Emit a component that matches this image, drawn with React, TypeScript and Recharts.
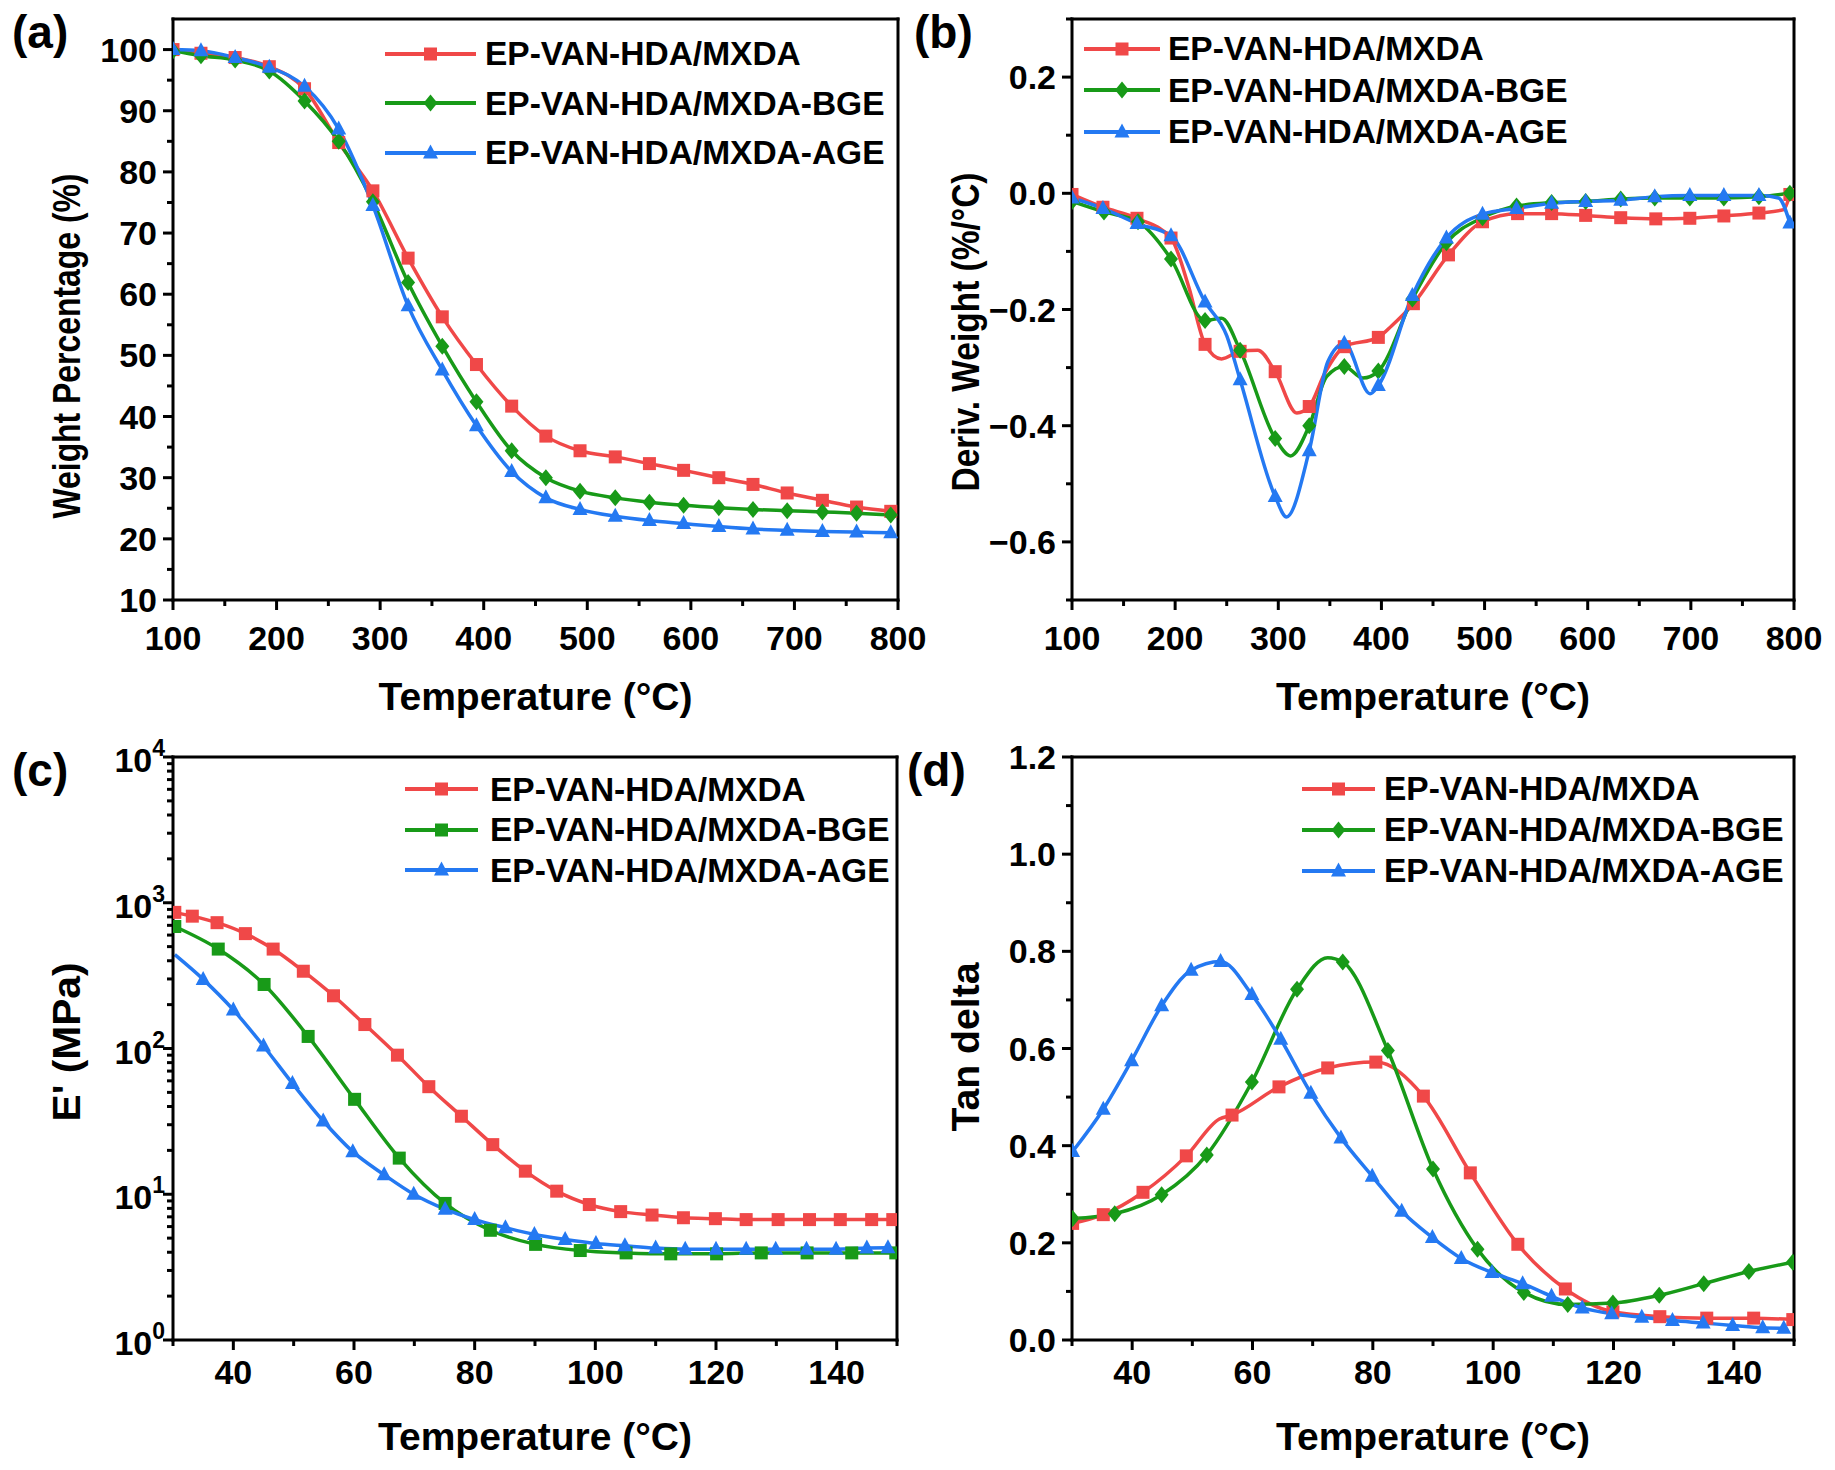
import React from 'react';
import { LineChart, Line, XAxis, YAxis, Legend, Label } from 'recharts';

const RED = '#f04848';
const GREEN = '#189a18';
const BLUE = '#2479f2';
const COLORS = [RED, GREEN, BLUE];
const FONT = '"Liberation Sans", Arial, Helvetica, sans-serif';

const names = ['EP-VAN-HDA/MXDA', 'EP-VAN-HDA/MXDA-BGE', 'EP-VAN-HDA/MXDA-AGE'];

// (a) TGA weight percentage
const aTemp = [100, 127, 160, 193, 227, 260, 293, 327, 360, 393, 427, 460, 493, 527, 560, 593, 627, 660, 693, 727, 760, 793];
const aRed = [100, 99.4, 98.7, 97.2, 93.6, 84.8, 76.9, 65.9, 56.3, 48.5, 41.7, 36.8, 34.4, 33.4, 32.3, 31.2, 30.0, 28.9, 27.5, 26.3, 25.2, 24.5];
const aGreen = [99.8, 99.0, 98.3, 96.5, 91.6, 85.0, 75.1, 61.9, 51.5, 42.4, 34.4, 30.0, 27.8, 26.7, 26.0, 25.5, 25.1, 24.8, 24.6, 24.4, 24.2, 23.9];
const aBlue = [100, 99.8, 98.7, 97.1, 94.0, 87.0, 74.5, 58.1, 47.6, 38.5, 31.0, 26.7, 24.8, 23.7, 23.0, 22.5, 22.0, 21.6, 21.4, 21.2, 21.1, 21.0];

// (b) DTG, marker points plus extra points
const bRedT = [100, 130, 163, 196, 229, 263, 297, 330, 364, 397, 431, 465, 498, 532, 565, 598, 632, 666, 699, 732, 766, 796];
const bRedV = [-0.002, -0.024, -0.043, -0.077, -0.26, -0.272, -0.307, -0.367, -0.264, -0.248, -0.19, -0.106, -0.049, -0.035, -0.035, -0.038, -0.042, -0.044, -0.043, -0.039, -0.034, -0.002];
const bRedExT = [213, 245, 280, 318, 345, 410, 790];
const bRedExV = [-0.16, -0.285, -0.27, -0.378, -0.31, -0.228, -0.028];
const bGreenT = [100, 131, 164, 196, 229, 263, 297, 330, 364, 397, 430, 463, 498, 531, 565, 598, 632, 665, 699, 732, 766, 796];
const bGreenV = [-0.014, -0.032, -0.049, -0.113, -0.219, -0.27, -0.422, -0.4, -0.298, -0.306, -0.182, -0.085, -0.042, -0.022, -0.016, -0.014, -0.01, -0.008, -0.008, -0.008, -0.006, 0.0];
const bGreenExT = [245, 312, 347, 382];
const bGreenExV = [-0.215, -0.452, -0.315, -0.318];
const bBlueT = [100, 130, 163, 196, 229, 263, 297, 330, 364, 397, 430, 463, 498, 531, 565, 598, 632, 665, 699, 732, 766, 796];
const bBlueV = [-0.008, -0.026, -0.052, -0.073, -0.187, -0.321, -0.522, -0.443, -0.258, -0.331, -0.176, -0.077, -0.036, -0.026, -0.017, -0.014, -0.012, -0.006, -0.004, -0.004, -0.004, -0.051];
const bBlueExT = [250, 308, 348, 389, 785];
const bBlueExV = [-0.245, -0.557, -0.29, -0.345, -0.008];

// (c) storage modulus E' (MPa)
const cRedT = [30.3, 33.2, 37.3, 42, 46.6, 51.6, 56.6, 61.8, 67.2, 72.4, 77.8, 83, 88.4, 93.6, 99, 104.2, 109.4, 114.6, 119.9, 125, 130.3, 135.5, 140.6, 145.8, 149.3];
const cRedV = [859, 809, 730, 614, 481, 339, 230, 146, 90, 54.7, 34.3, 21.9, 14.4, 10.5, 8.5, 7.6, 7.2, 6.9, 6.8, 6.7, 6.7, 6.7, 6.7, 6.7, 6.7];
const cGreenT = [30.3, 37.5, 45.1, 52.4, 60.1, 67.5, 75.1, 82.6, 90.1, 97.5, 105.1, 112.5, 120.1, 127.5, 135.1, 142.5, 149.8];
const cGreenV = [687, 481, 275, 121, 44.8, 17.7, 8.65, 5.66, 4.53, 4.11, 3.96, 3.9, 3.9, 3.96, 3.96, 3.96, 3.96];
const cBlueT = [35, 40, 45, 49.8, 54.9, 59.8, 65, 69.9, 75.1, 80, 85.1, 89.9, 95, 100.1, 104.9, 110, 114.9, 120, 125, 129.9, 135, 139.9, 145, 148.5];
const cBlueV = [298, 184, 104, 57.6, 31.8, 19.6, 13.6, 10, 7.9, 6.7, 5.9, 5.3, 4.9, 4.6, 4.43, 4.27, 4.2, 4.2, 4.2, 4.2, 4.2, 4.2, 4.27, 4.3];
const cBlueExT = [30.3];
const cBlueExV = [440];

// (d) tan delta
const dRedT = [30.1, 35.2, 41.8, 49, 56.6, 64.4, 72.5, 80.5, 88.4, 96.2, 104.1, 112, 119.9, 127.7, 135.5, 143.3, 149.8];
const dRedV = [0.24, 0.258, 0.304, 0.379, 0.463, 0.521, 0.56, 0.572, 0.502, 0.344, 0.197, 0.105, 0.058, 0.048, 0.045, 0.045, 0.042];
const dRedExT = [54.5];
const dRedExV = [0.455];
const dGreenT = [30.1, 37.1, 44.9, 52.4, 59.9, 67.4, 75, 82.5, 90, 97.4, 105.1, 112.4, 119.9, 127.6, 135, 142.5, 149.8];
const dGreenV = [0.25, 0.26, 0.299, 0.381, 0.531, 0.722, 0.778, 0.596, 0.352, 0.187, 0.098, 0.073, 0.076, 0.092, 0.116, 0.141, 0.16];
const dGreenExT = [72.5];
const dGreenExV = [0.787];
const dBlueT = [30.1, 35.2, 39.9, 44.9, 49.8, 54.7, 59.9, 64.7, 69.7, 74.7, 79.9, 84.8, 89.9, 94.7, 99.8, 104.9, 109.7, 114.8, 119.7, 124.7, 129.8, 134.9, 139.8, 144.8, 148.3];
const dBlueV = [0.388, 0.475, 0.575, 0.688, 0.761, 0.779, 0.711, 0.619, 0.508, 0.416, 0.337, 0.265, 0.211, 0.168, 0.139, 0.116, 0.09, 0.066, 0.054, 0.047, 0.04, 0.035, 0.03, 0.025, 0.024];

// ticks
const tgaXTicks = [100, 150, 200, 250, 300, 350, 400, 450, 500, 550, 600, 650, 700, 750, 800];
const tgaXMajor = [100, 200, 300, 400, 500, 600, 700, 800];
const aYTicks = [10, 15, 20, 25, 30, 35, 40, 45, 50, 55, 60, 65, 70, 75, 80, 85, 90, 95, 100];
const aYMajor = [10, 20, 30, 40, 50, 60, 70, 80, 90, 100];
const bYTicks = [-0.7, -0.6, -0.5, -0.4, -0.3, -0.2, -0.1, 0, 0.1, 0.2, 0.3];
const bYMajor = [-0.6, -0.4, -0.2, 0, 0.2];
const dmaXTicks = [30, 40, 50, 60, 70, 80, 90, 100, 110, 120, 130, 140, 150];
const dmaXMajor = [40, 60, 80, 100, 120, 140];
const cYTicks = [1, 2, 3, 4, 5, 6, 7, 8, 9, 10, 20, 30, 40, 50, 60, 70, 80, 90, 100, 200, 300, 400, 500, 600, 700, 800, 900, 1000, 2000, 3000, 4000, 5000, 6000, 7000, 8000, 9000, 10000];
const cYMajor = [1, 10, 100, 1000, 10000];
const dYTicks = [0, 0.1, 0.2, 0.3, 0.4, 0.5, 0.6, 0.7, 0.8, 0.9, 1.0, 1.1, 1.2];
const dYMajor = [0, 0.2, 0.4, 0.6, 0.8, 1.0, 1.2];

type Pt = { t: number; v: number; m: boolean };
type Shape = 'square' | 'diamond' | 'triangle';

// axis boxes: bottom/left axes get real size, frame axes a small one
const X_AXIS_H = 60;
const Y_AXIS_W = 60;
const FRAME_AXIS = 10;

function build(mt: number[], mv: number[], et: number[] = [], ev: number[] = []): Pt[] {
  const pts = [
    ...mt.map((t, i) => ({ t, v: mv[i], m: true })),
    ...et.map((t, i) => ({ t, v: ev[i], m: false })),
  ];
  return pts.sort((p, q) => p.t - q.t);
}

function marker(shape: Shape, color: string, cx: number, cy: number) {
  if (shape === 'square') {
    return <rect x={cx - 6.5} y={cy - 6.5} width={13} height={13} fill={color} />;
  }
  if (shape === 'diamond') {
    return <polygon points={`${cx},${cy - 8.5} ${cx + 7},${cy} ${cx},${cy + 8.5} ${cx - 7},${cy}`} fill={color} />;
  }
  return <polygon points={`${cx},${cy - 8.5} ${cx + 7.5},${cy + 5.5} ${cx - 7.5},${cy + 5.5}`} fill={color} />;
}

function makeDot(shape: Shape, color: string) {
  return (p: any) => {
    const { cx, cy, payload, index } = p;
    if (!payload || !payload.m || cx == null || cy == null) return <g key={`e${index}`} />;
    return <g key={`d${index}`}>{marker(shape, color, cx, cy)}</g>;
  };
}

const txt = { fontFamily: FONT, fontWeight: 700, fill: '#000' } as const;

function bottomTick(majors: number[], fmt: (v: number) => string, labelDy: number) {
  return (p: any) => {
    const { x, y, payload } = p;
    const major = majors.includes(payload.value);
    return (
      <g>
        <line x1={x} x2={x} y1={y} y2={y + (major ? 10 : 6)} stroke="#000" strokeWidth={3} />
        {major && (
          <text x={x} y={y + labelDy} textAnchor="middle" fontSize={34} {...txt}>
            {fmt(payload.value)}
          </text>
        )}
      </g>
    );
  };
}

function leftTick(majors: number[], fmt: (v: number) => string) {
  return (p: any) => {
    const { x, y, payload } = p;
    const major = majors.includes(payload.value);
    return (
      <g>
        <line x1={x - (major ? 10 : 6)} x2={x} y1={y} y2={y} stroke="#000" strokeWidth={3} />
        {major && (
          <text x={x - 16} y={y + 12} textAnchor="end" fontSize={34} {...txt}>
            {fmt(payload.value)}
          </text>
        )}
      </g>
    );
  };
}

function logTick(majors: number[]) {
  return (p: any) => {
    const { x, y, payload } = p;
    const major = majors.includes(payload.value);
    return (
      <g>
        <line x1={x - (major ? 10 : 6)} x2={x} y1={y} y2={y} stroke="#000" strokeWidth={3} />
        {major && (
          <text x={x - 8} y={y + 15} textAnchor="end" fontSize={34} {...txt}>
            10
            <tspan fontSize={23} dy={-16}>
              {Math.round(Math.log10(payload.value))}
            </tspan>
          </text>
        )}
      </g>
    );
  };
}

const intFmt = (v: number) => String(v);
const signedFmt = (v: number) => (v < 0 ? '\u2212' : '') + Math.abs(v).toFixed(1);
const oneFmt = (v: number) => v.toFixed(1);

function xTitle(props: any) {
  const { x, y, width } = props.viewBox;
  return (
    <text x={x + width / 2} y={y + 110} textAnchor="middle" fontSize={39} {...txt}>
      Temperature (°C)
    </text>
  );
}

function yTitle(title: string, centerY: number, length: number) {
  return (props: any) => {
    const { x, width } = props.viewBox;
    const cx = x + width - 93;
    const cy = centerY;
    return (
      <text
        x={cx}
        y={cy}
        transform={`rotate(-90 ${cx} ${cy})`}
        textAnchor="middle"
        fontSize={38}
        textLength={length}
        lengthAdjust="spacingAndGlyphs"
        {...txt}
      >
        {title}
      </text>
    );
  };
}

function legendContent(shapes: Shape[], lineW: number, rowH: number, gap: number) {
  return () => (
    <div style={{ display: 'flex', flexDirection: 'column' }}>
      {names.map((n, i) => (
        <div key={n} style={{ display: 'flex', alignItems: 'center', height: rowH }}>
          <svg width={lineW} height={22} style={{ overflow: 'visible' }}>
            <line x1={0} x2={lineW} y1={11} y2={11} stroke={COLORS[i]} strokeWidth={4} />
            {marker(shapes[i], COLORS[i], lineW / 2, 11)}
          </svg>
          <span style={{ marginLeft: gap, fontFamily: FONT, fontWeight: 700, fontSize: 33.5, lineHeight: 1, color: '#000', whiteSpace: 'nowrap' }}>
            {n}
          </span>
        </div>
      ))}
    </div>
  );
}

type PanelProps = {
  left: number;
  top: number;
  width: number;
  height: number;
  // plot frame edges measured from the panel box
  frame: { top: number; right: number; bottom: number; left: number };
  xDomain: [number, number];
  xTicks: number[];
  xMajor: number[];
  xLabelDy: number;
  yDomain: [number, number];
  yTicks: number[];
  yTick: (p: any) => React.ReactElement;
  logY?: boolean;
  yLabel: string;
  yLabelCenter: number;
  yLabelLength: number;
  series: Pt[][];
  shapes: Shape[];
  legend: { left: number; top: number; lineW: number; rowH: number; gap: number };
};

const axisLine = { stroke: '#000', strokeWidth: 3, strokeLinecap: 'square' as const };

function Panel(p: PanelProps) {
  const margin = {
    top: p.frame.top - FRAME_AXIS,
    right: p.frame.right - FRAME_AXIS,
    bottom: p.frame.bottom - X_AXIS_H,
    left: p.frame.left - Y_AXIS_W,
  };
  return (
    <div style={{ position: 'absolute', left: p.left, top: p.top }}>
      <LineChart width={p.width} height={p.height} margin={margin}>
        <XAxis
          type="number"
          dataKey="t"
          domain={p.xDomain}
          ticks={p.xTicks}
          interval={0}
          height={X_AXIS_H}
          tickSize={0}
          tickMargin={0}
          tickLine={false}
          axisLine={axisLine}
          tick={bottomTick(p.xMajor, intFmt, p.xLabelDy)}
          allowDataOverflow
        >
          <Label content={xTitle} />
        </XAxis>
        <XAxis xAxisId="top" orientation="top" type="number" domain={p.xDomain} height={FRAME_AXIS} tick={false} tickLine={false} axisLine={axisLine} />
        <YAxis
          type="number"
          scale={p.logY ? 'log' : 'auto'}
          domain={p.yDomain}
          ticks={p.yTicks}
          interval={0}
          width={Y_AXIS_W}
          tickSize={0}
          tickMargin={0}
          tickLine={false}
          axisLine={axisLine}
          tick={p.yTick}
          allowDataOverflow
        >
          <Label content={yTitle(p.yLabel, p.yLabelCenter, p.yLabelLength)} />
        </YAxis>
        <YAxis yAxisId="right" orientation="right" type="number" domain={[0, 1]} width={FRAME_AXIS} tick={false} tickLine={false} axisLine={axisLine} />
        <Legend
          layout="vertical"
          align="center"
          verticalAlign="middle"
          wrapperStyle={{ left: p.legend.left, top: p.legend.top, width: 540, height: 'auto' }}
          content={legendContent(p.shapes, p.legend.lineW, p.legend.rowH, p.legend.gap)}
        />
        {p.series.map((d, i) => (
          <Line
            key={names[i]}
            data={d}
            dataKey="v"
            name={names[i]}
            type="monotone"
            stroke={COLORS[i]}
            strokeWidth={3.5}
            dot={makeDot(p.shapes[i], COLORS[i])}
            activeDot={false}
            isAnimationActive={false}
          />
        ))}
      </LineChart>
    </div>
  );
}

export default function App() {
  const aSeries = [build(aTemp, aRed), build(aTemp, aGreen), build(aTemp, aBlue)];
  const bSeries = [
    build(bRedT, bRedV, bRedExT, bRedExV),
    build(bGreenT, bGreenV, bGreenExT, bGreenExV),
    build(bBlueT, bBlueV, bBlueExT, bBlueExV),
  ];
  const cSeries = [build(cRedT, cRedV), build(cGreenT, cGreenV), build(cBlueT, cBlueV, cBlueExT, cBlueExV)];
  const dSeries = [
    build(dRedT, dRedV, dRedExT, dRedExV),
    build(dGreenT, dGreenV, dGreenExT, dGreenExV),
    build(dBlueT, dBlueV),
  ];

  return (
    <div style={{ position: 'absolute', left: 0, top: 0, width: 1835, height: 1470, background: '#fff', overflow: 'hidden' }}>
      <style>{'.recharts-surface{overflow:visible}'}</style>
      <Panel
        left={0}
        top={0}
        width={918}
        height={735}
        frame={{ top: 19, right: 20, bottom: 135, left: 173 }}
        xDomain={[100, 800]}
        xTicks={tgaXTicks}
        xMajor={tgaXMajor}
        xLabelDy={50}
        yDomain={[10, 105]}
        yTicks={aYTicks}
        yTick={leftTick(aYMajor, intFmt)}
        yLabel="Weight Percentage (%)"
        yLabelCenter={346}
        yLabelLength={345}
        series={aSeries}
        shapes={['square', 'diamond', 'triangle']}
        legend={{ left: 385, top: 29, lineW: 91, rowH: 49.5, gap: 9 }}
      />
      <Panel
        left={918}
        top={0}
        width={917}
        height={735}
        frame={{ top: 19, right: 41, bottom: 135, left: 154 }}
        xDomain={[100, 800]}
        xTicks={tgaXTicks}
        xMajor={tgaXMajor}
        xLabelDy={50}
        yDomain={[-0.7, 0.3]}
        yTicks={bYTicks}
        yTick={leftTick(bYMajor, signedFmt)}
        yLabel="Deriv. Weight (%/°C)"
        yLabelCenter={332}
        yLabelLength={319}
        series={bSeries}
        shapes={['square', 'diamond', 'triangle']}
        legend={{ left: 166, top: 28, lineW: 76, rowH: 41.5, gap: 8 }}
      />
      <Panel
        left={0}
        top={735}
        width={918}
        height={735}
        frame={{ top: 22, right: 21, bottom: 130, left: 173 }}
        xDomain={[30, 150]}
        xTicks={dmaXTicks}
        xMajor={dmaXMajor}
        xLabelDy={44}
        yDomain={[1, 10000]}
        yTicks={cYTicks}
        yTick={logTick(cYMajor)}
        logY
        yLabel="E' (MPa)"
        yLabelCenter={307}
        yLabelLength={159}
        series={cSeries}
        shapes={['square', 'square', 'triangle']}
        legend={{ left: 405, top: 34, lineW: 73, rowH: 40.5, gap: 12 }}
      />
      <Panel
        left={918}
        top={735}
        width={917}
        height={735}
        frame={{ top: 22, right: 41, bottom: 130, left: 154 }}
        xDomain={[30, 150]}
        xTicks={dmaXTicks}
        xMajor={dmaXMajor}
        xLabelDy={44}
        yDomain={[0, 1.2]}
        yTicks={dYTicks}
        yTick={leftTick(dYMajor, oneFmt)}
        yLabel="Tan delta"
        yLabelCenter={312}
        yLabelLength={169}
        series={dSeries}
        shapes={['square', 'diamond', 'triangle']}
        legend={{ left: 384, top: 33, lineW: 73, rowH: 41, gap: 9 }}
      />
      <svg width={1835} height={1470} style={{ position: 'absolute', left: 0, top: 0, pointerEvents: 'none' }}>
        <text x={12} y={48} fontSize={46} {...txt}>(a)</text>
        <text x={914} y={48} fontSize={46} {...txt}>(b)</text>
        <text x={12} y={786} fontSize={46} {...txt}>(c)</text>
        <text x={907} y={786} fontSize={46} {...txt}>(d)</text>
      </svg>
    </div>
  );
}
